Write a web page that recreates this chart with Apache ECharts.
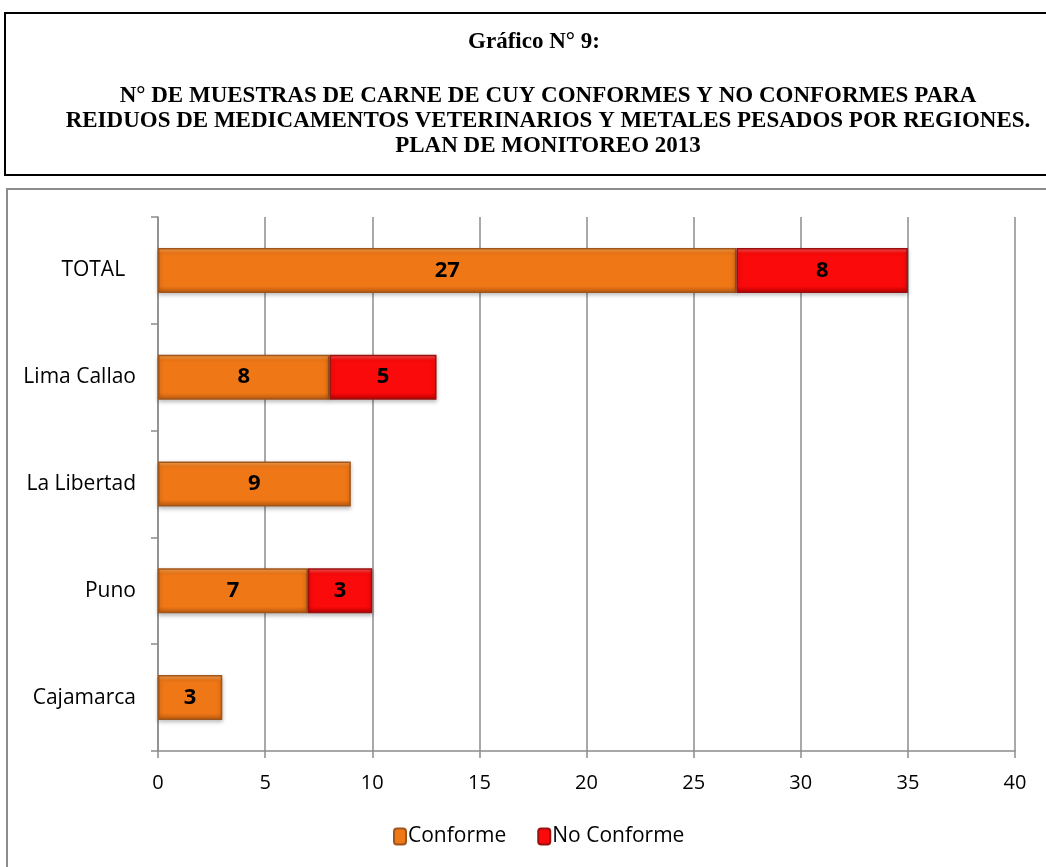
<!DOCTYPE html>
<html>
<head>
<meta charset="utf-8">
<script src="https://cdn.jsdelivr.net/npm/echarts@6/dist/echarts.min.js"></script>
<style>
  html, body { margin: 0; padding: 0; background: #fff; }
  #chart { width: 1046px; height: 867px; }
</style>
</head>
<body>
<div id="chart"></div>
<script>
// Regions, bottom to top as drawn on the category axis
const regions = ['Cajamarca', 'Puno', 'La Libertad', 'Lima Callao', 'TOTAL  '];
const conforme = [3, 7, 9, 8, 27];
const noConforme = [null, 3, null, 5, 8];
const xTicks = [0, 5, 10, 15, 20, 25, 30, 35, 40];

const heading = 'Gráfico N° 9:';
const titleLines = [
  'N° DE MUESTRAS DE CARNE DE CUY CONFORMES Y NO CONFORMES PARA',
  'REIDUOS DE MEDICAMENTOS VETERINARIOS Y METALES PESADOS POR REGIONES.',
  'PLAN DE MONITOREO 2013'
];

const chart = echarts.init(document.getElementById('chart'));

function bevel(top, mid, bottom) {
  return new echarts.graphic.LinearGradient(0, 0, 0, 1, [
    { offset: 0, color: top },
    { offset: 0.12, color: mid },
    { offset: 0.85, color: mid },
    { offset: 1, color: bottom }
  ]);
}

const titleFont = 'bold 23px "Liberation Serif"';
const titleTexts = [{ text: heading, x: 534, y: 42 }]
  .concat(titleLines.map((t, i) => ({ text: t, x: 548, y: 96 + i * 25 })))
  .map(l => ({
    type: 'text', z: 2,
    style: {
      text: l.text, x: l.x, y: l.y,
      font: titleFont, fill: '#000',
      align: 'center', verticalAlign: 'middle'
    }
  }));

const labelStyle = {
  show: true,
  position: 'inside',
  color: '#000',
  fontFamily: 'Open Sans',
  fontWeight: 'bold',
  fontSize: 22
};

chart.setOption({
  animation: false,
  backgroundColor: '#fff',
  graphic: [
    {
      type: 'rect', z: 0,
      shape: { x: 5, y: 13, width: 1100, height: 162 },
      style: { fill: '#fff', stroke: '#000', lineWidth: 2 }
    },
    {
      type: 'rect', z: 0,
      shape: { x: 7, y: 189, width: 1100, height: 700 },
      style: { fill: '#fff', stroke: '#8c8c8c', lineWidth: 2 }
    }
  ].concat(titleTexts),
  legend: {
    top: 821,
    left: 388,
    itemWidth: 12,
    itemHeight: 16,
    itemGap: 31,
    textStyle: { fontFamily: 'Open Sans', fontSize: 21, color: '#000', padding: [0, 0, 0, -3] },
    data: ['Conforme', 'No Conforme']
  },
  grid: { left: 158, right: 31, top: 217, bottom: 116, containLabel: false },
  xAxis: {
    type: 'value',
    min: xTicks[0],
    max: xTicks[xTicks.length - 1],
    interval: 5,
    axisLine: { show: true, lineStyle: { color: '#8c8c8c', width: 1.5 } },
    axisTick: { show: true, length: 7, lineStyle: { color: '#8c8c8c', width: 1.5 } },
    axisLabel: { color: '#000', fontFamily: 'Open Sans', fontSize: 20, margin: 22 },
    splitLine: { show: true, lineStyle: { color: '#8c8c8c', width: 1.5 } }
  },
  yAxis: {
    type: 'category',
    data: regions,
    axisLine: { show: true, lineStyle: { color: '#8c8c8c', width: 1.5 } },
    axisTick: { show: true, length: 7, lineStyle: { color: '#8c8c8c', width: 1.5 } },
    axisLabel: { color: '#000', fontFamily: 'Open Sans', fontSize: 21, margin: 22 }
  },
  series: [
    {
      name: 'Conforme',
      type: 'bar',
      stack: 'total',
      barWidth: 45,
      data: conforme,
      itemStyle: {
        color: bevel('#f9a455', '#ef7716', '#b9590f'),
        borderColor: '#a0561a',
        borderWidth: 1.5,
        shadowColor: 'rgba(0,0,0,0.25)',
        shadowBlur: 4,
        shadowOffsetY: 2
      },
      label: labelStyle
    },
    {
      name: 'No Conforme',
      type: 'bar',
      stack: 'total',
      barWidth: 45,
      data: noConforme,
      itemStyle: {
        color: bevel('#ff5a5a', '#fa0a0a', '#b80000'),
        borderColor: '#9a1010',
        borderWidth: 1.5,
        shadowColor: 'rgba(0,0,0,0.25)',
        shadowBlur: 4,
        shadowOffsetY: 2
      },
      label: labelStyle
    }
  ]
});
</script>
</body>
</html>
